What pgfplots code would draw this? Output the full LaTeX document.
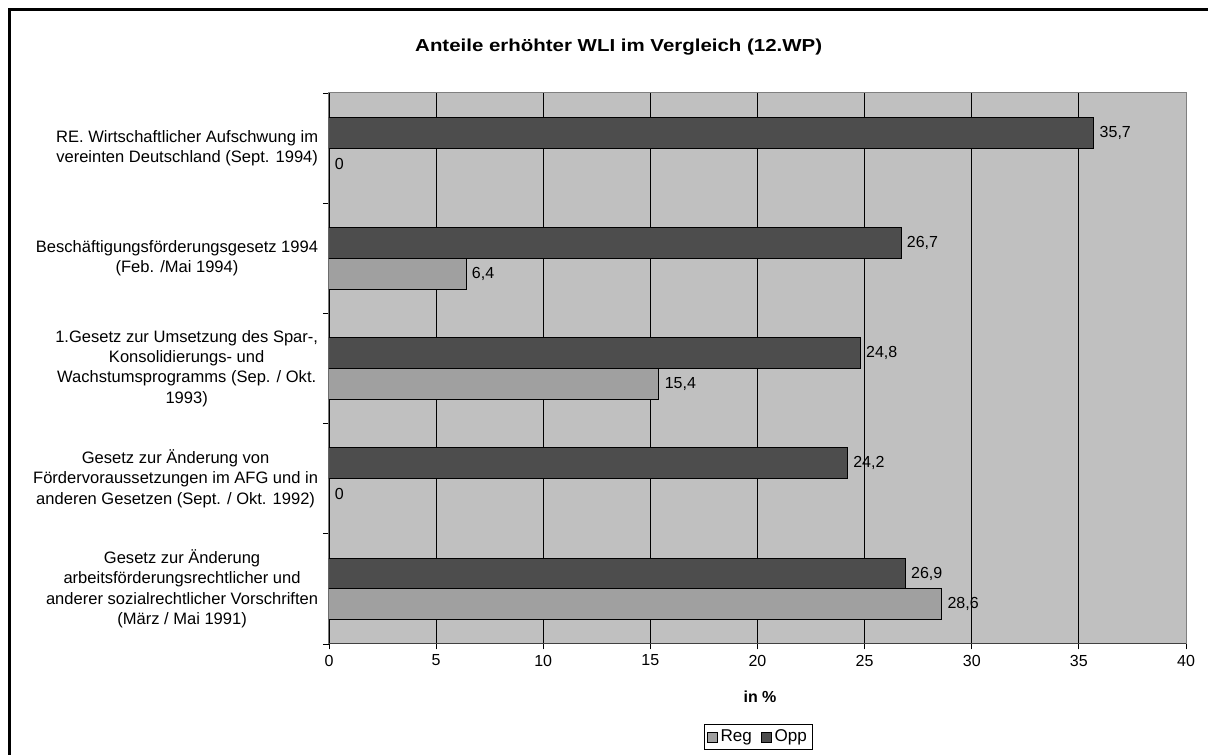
\documentclass[border=0pt]{standalone}
\usepackage{pgfplots}
\pgfplotsset{compat=1.18}
\usepackage{fontspec}
\setmainfont{Liberation Sans}
\newfontfamily\titlefont[FakeStretch=1.18]{Liberation Sans}
\definecolor{plotbg}{HTML}{C0C0C0}
\definecolor{regfill}{HTML}{A0A0A0}
\definecolor{oppfill}{HTML}{4D4D4D}
\definecolor{frameline}{HTML}{808080}
\pgfkeys{/pgf/number format/assume math mode=true}
\begin{document}
\fontsize{12}{15.2}\selectfont
\begin{tikzpicture}[font=\fontsize{12}{15.2}\selectfont]
\useasboundingbox (0,0) rectangle (906pt,566.25pt);
% outer chart frame (left and top edges lie on the page)
\draw[line width=1.6pt] (7.1pt,0pt) -- (7.1pt,559.1pt) -- (906pt,559.1pt);
\begin{axis}[
  at={(246.75pt,83.25pt)}, anchor=south west,
  scale only axis, width=642.75pt, height=413.25pt,
  xmin=0, xmax=40, ymin=-0.5, ymax=4.5,
  xbar, bar width=0.28,
  axis background/.style={fill=plotbg},
  axis line style={draw=frameline, line width=0.75pt},
  xtick={0,5,...,40},
  xtick pos=bottom, ytick pos=left,
  xmajorgrids,
  grid style={draw=black, line width=0.6pt},
  tick align=outside,
  major tick length=4pt,
  minor tick length=4.5pt,
  ytick={0,1,2,3,4},
  minor ytick={-0.5,0.5,1.5,2.5,3.5,4.5},
  every major y tick/.append style={draw=none},
  every minor y tick/.append style={draw=black, line width=0.6pt},
  every major x tick/.append style={draw=black, line width=0.6pt},
  yticklabels={
    {Gesetz zur Änderung\\arbeitsförderungsrechtlicher und\\anderer sozialrechtlicher Vorschriften\\(März / Mai 1991)},
    {Gesetz zur Änderung von\\Fördervoraussetzungen im AFG und in\\anderen Gesetzen (Sept. / Okt. 1992)},
    {1.Gesetz zur Umsetzung des Spar-,\\Konsolidierungs- und\\Wachstumsprogramms (Sep. / Okt.\\1993)},
    {Beschäftigungsförderungsgesetz 1994\\(Feb. /Mai 1994)},
    {RE. Wirtschaftlicher Aufschwung im\\vereinten Deutschland (Sept. 1994)}},
  yticklabel style={align=center, font=\fontsize{12.4}{15.2}\selectfont},
  xticklabel style={font=\fontsize{12}{15.2}\selectfont},
  nodes near coords={\pgfmathprintnumber[fixed,precision=1,use comma]{\pgfplotspointmeta}},
  every node near coord/.append style={anchor=west, font=\fontsize{12}{15.2}\selectfont, text=black},
  legend columns=2,
  legend style={at={(0.501,-0.1688)}, anchor=center, draw=black, line width=0.6pt,
    font=\fontsize{12.8}{15}\selectfont, inner xsep=2.5pt, inner ysep=2pt,
    /tikz/every odd column/.append style={column sep=0pt},
    /tikz/every even column/.append style={column sep=5pt}},
  legend image code/.code={\draw[#1, line width=0.6pt] (0pt,-3.7pt) rectangle (7.4pt,3.7pt);},
]
\addplot[fill=regfill, draw=black, line width=0.75pt, bar shift=-0.14]
  coordinates {(28.6,0) (0,1) (15.4,2) (6.4,3) (0,4)};
\addplot[fill=oppfill, draw=black, line width=0.75pt, bar shift=0.14]
  coordinates {(26.9,0) (24.2,1) (24.8,2) (26.7,3) (35.7,4)};
\legend{Reg, Opp}
% darker value and category axis lines
\draw[black!75, line width=0.75pt] (axis cs:0,-0.5) -- (axis cs:40,-0.5);
\draw[black!75, line width=0.75pt] (axis cs:0,-0.5) -- (axis cs:0,4.5);
\end{axis}
\node[font=\titlefont\bfseries\fontsize{13}{15}\selectfont] at (464pt,531pt) {Anteile erhöhter WLI im Vergleich (12.WP)};
\node[font=\bfseries\fontsize{12}{14}\selectfont] at (570pt,43.5pt) {in \%};
\end{tikzpicture}
\end{document}
